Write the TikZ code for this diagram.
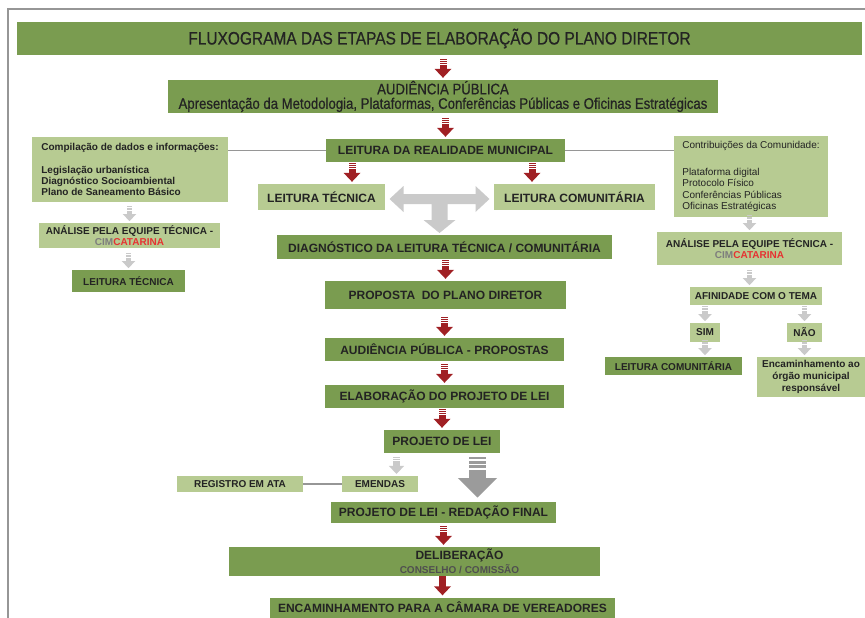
\documentclass[tikz,border=0pt]{standalone}
\usepackage{fontspec}
\setmainfont{Liberation Sans}
\newfontfamily\estreita[FakeStretch=0.86,FakeBold=0.6]{Liberation Sans}
\usetikzlibrary{calc}
\definecolor{verdeesc}{RGB}{122,156,80}
\definecolor{verdeclaro}{RGB}{183,203,146}
\definecolor{vermelho}{RGB}{160,32,36}
\definecolor{cinzaclaro}{RGB}{202,202,202}
\definecolor{cinzaesc}{RGB}{155,155,155}
\definecolor{cinzalinha}{RGB}{150,150,150}
\definecolor{texto}{RGB}{35,35,35}
\definecolor{catred}{RGB}{230,50,50}
\definecolor{cimgray}{RGB}{125,125,125}
\tikzset{
  caixa/.style={fill=verdeesc, text=texto, inner sep=0pt, align=center, font=\bfseries\fontsize{12}{14}\selectfont},
  caixaclara/.style={caixa, fill=verdeclaro, font=\bfseries\fontsize{10}{11}\selectfont},
  linha/.style={draw=cinzalinha, line width=1.4},
  seta/.pic={
    \fill (-3.5,-21) rectangle (3.5,-19.8);
    \fill (-3.5,-19) rectangle (3.5,-17.8);
    \fill (-3.5,-17) rectangle (3.5,-15.8);
    \fill (-3.5,-15) rectangle (3.5,-10.5);
    \fill (-8.5,-11) -- (8.5,-11) -- (0,-2) -- cycle;
  }
}
\begin{document}
\begin{tikzpicture}[x=1pt,y=-1pt]
  \useasboundingbox (0,0) rectangle (865,618);
  \draw[cinzalinha, line width=1.3] (8,618) -- (8,9) -- (865,9);

  \node[caixa, minimum width=845, minimum height=33, font=\estreita\fontsize{18}{20}\selectfont] (titulo) at (439.5,38.5) {FLUXOGRAMA DAS ETAPAS DE ELABORAÇÃO DO PLANO DIRETOR};
  \node[caixa, minimum width=550, minimum height=33, font=\estreita\fontsize{15.3}{14.5}\selectfont] (aud) at (443,96.5) {AUDIÊNCIA PÚBLICA\\Apresentação da Metodologia, Plataformas, Conferências Públicas e Oficinas Estratégicas};
  \node[caixa, minimum width=239, minimum height=23] (real) at (445.5,150.5) {LEITURA DA REALIDADE MUNICIPAL};
  \node[caixa, fill=verdeclaro, minimum width=127, minimum height=26] (lt) at (321.5,197) {LEITURA TÉCNICA};
  \node[caixa, fill=verdeclaro, minimum width=161, minimum height=26] (lc) at (574.5,197) {LEITURA COMUNITÁRIA};
  \node[caixa, minimum width=335, minimum height=24] (diag) at (444.5,247) {DIAGNÓSTICO DA LEITURA TÉCNICA / COMUNITÁRIA};
  \node[caixa, minimum width=241, minimum height=28] (prop) at (445.5,295) {PROPOSTA \ DO PLANO DIRETOR};
  \node[caixa, minimum width=239, minimum height=23] (audp) at (444.5,349.5) {AUDIÊNCIA PÚBLICA - PROPOSTAS};
  \node[caixa, minimum width=239, minimum height=23] (elab) at (444.5,396.5) {ELABORAÇÃO DO PROJETO DE LEI};
  \node[caixa, minimum width=116, minimum height=23] (pl) at (442,441.5) {PROJETO DE LEI};
  \node[caixaclara, minimum width=76, minimum height=16] (emendas) at (380,484) {EMENDAS};
  \node[caixaclara, minimum width=126, minimum height=16] (ata) at (240,484) {REGISTRO EM ATA};
  \node[caixa, minimum width=225, minimum height=21] (final) at (443.5,512.5) {PROJETO DE LEI - REDAÇÃO FINAL};
  \node[caixa, minimum width=371, minimum height=29] (delib) at (414.5,561.5) {\hspace*{90pt}DELIBERAÇÃO\\{\fontsize{10}{10.5}\selectfont\color{texto!80}\hspace*{90pt}CONSELHO / COMISSÃO}};
  \node[caixa, minimum width=345, minimum height=20] (camara) at (442.5,607.5) {ENCAMINHAMENTO PARA A CÂMARA DE VEREADORES};

  \node[caixaclara, minimum width=196, minimum height=65, align=left, font=\bfseries\fontsize{10}{11.4}\selectfont] (comp) at (130,169.5) {Compilação de dados e informações:\\[11.5pt]Legislação urbanística\\Diagnóstico Socioambiental\\Plano de Saneamento Básico};
  \node[caixaclara, minimum width=181, minimum height=25] (analL) at (129.5,235.5) {ANÁLISE PELA EQUIPE TÉCNICA -\\{\color{cimgray}CIM}{\color{catred}CATARINA}};
  \node[caixa, minimum width=113, minimum height=22, font=\bfseries\fontsize{10}{11}\selectfont] (ltL) at (128.5,281) {LEITURA TÉCNICA};

  \node[caixaclara, minimum width=154, minimum height=81, align=left, font=\fontsize{10}{11.3}\selectfont] (contrib) at (751,176.5) {Contribuições da Comunidade:\\[15.5pt]Plataforma digital\\Protocolo Físico\\Conferências Públicas\\Oficinas Estratégicas};
  \node[caixaclara, minimum width=185, minimum height=33] (analR) at (749.5,248.5) {ANÁLISE PELA EQUIPE TÉCNICA -\\{\color{cimgray}CIM}{\color{catred}CATARINA}};
  \node[caixaclara, minimum width=132, minimum height=18] (afin) at (756,296) {AFINIDADE COM O TEMA};
  \node[caixaclara, minimum width=30, minimum height=19] (sim) at (705,332.5) {SIM};
  \node[caixaclara, minimum width=35, minimum height=19] (nao) at (804.5,332.5) {NÃO};
  \node[caixa, minimum width=137, minimum height=18, font=\bfseries\fontsize{10}{11}\selectfont] (lcR) at (673.5,366) {LEITURA COMUNITÁRIA};
  \node[caixaclara, minimum width=108, minimum height=40, font=\bfseries\fontsize{10}{11.6}\selectfont] (enc) at (811,377) {Encaminhamento ao\\órgão municipal\\responsável};

  \draw[linha] (real.west) -- (real.west -| comp.east);
  \draw[linha] (real.east) -- (real.east -| contrib.west);
  \draw[linha] (ata.east) -- (emendas.west);

  \pic[vermelho] at (aud.north) {seta};
  \pic[vermelho] at (real.north) {seta};
  \pic[vermelho] at ($(lt.north)+(30.5,0)$) {seta};
  \pic[vermelho] at ($(lc.north)+(-42.5,0)$) {seta};
  \pic[vermelho] at (prop.north) {seta};
  \pic[vermelho] at (audp.north) {seta};
  \pic[vermelho] at (elab.north) {seta};
  \pic[vermelho] at (pl.north) {seta};
  \pic[vermelho] at (delib.north -| final.south) {seta};
  \pic[vermelho] at (camara.north) {seta};

  \pic[cinzaclaro, scale=.8] at (analL.north) {seta};
  \pic[cinzaclaro, scale=.8] at (ltL.north) {seta};
  \pic[cinzaclaro, scale=.8] at (analR.north) {seta};
  \pic[cinzaclaro, scale=.8] at (afin.north -| analR.south) {seta};
  \pic[cinzaclaro, scale=.8] at (sim.north) {seta};
  \pic[cinzaclaro, scale=.8] at (nao.north) {seta};
  \pic[cinzaclaro, scale=.8] at (lcR.north -| sim.south) {seta};
  \pic[cinzaclaro, scale=.8] at (enc.north -| nao.south) {seta};
  \pic[cinzaclaro, scale=.9] at ($(emendas.north)+(16.5,0)$) {seta};
  \pic[cinzaesc, xscale=2.3, yscale=2.15] at ($(final.north)+(34,0)$) {seta};

  \begin{scope}[shift={($(lt.east)!.5!(lc.west)+(0,2)$)}]
    \fill[cinzaclaro] (-50,0) -- (-36,-13) -- (-36,-5) -- (36,-5) -- (36,-13) -- (50,0) -- (36,13) -- (36,5)
      -- (8,5) -- (8,21) -- (16,21) -- (0,34) -- (-16,21) -- (-8,21) -- (-8,5) -- (-36,5) -- (-36,13) -- cycle;
  \end{scope}
\end{tikzpicture}
\end{document}
